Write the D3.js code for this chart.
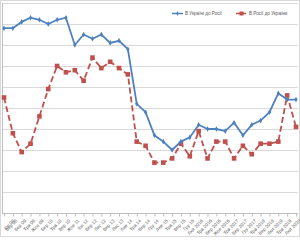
<!DOCTYPE html>
<html>
<head>
<meta charset="utf-8">
<script src="https://cdn.jsdelivr.net/npm/d3@7"></script>
<style>
  body { margin: 0; background: #fff; }
  svg { display: block; font-family: "Liberation Sans", Arial, sans-serif; }
</style>
</head>
<body>
<svg width="300" height="240"></svg>
<script>
// survey dates (x axis)
var dates = ['Кві 08', 'Вер 08', 'Бер 09', 'Тра 09', 'Жов 09', 'Бер 10', 'Тра 10', 'Вер 10',
  'Жов 11', 'Кві 12', 'Вер 12', 'Лис 12', 'Вер 13', 'Лис 13', 'Лют 14', 'Тра 14', 'Вер 14',
  'Гру 14', 'Лют 15', 'Тра 15', 'Вер 15', 'Гру 15', 'Лют 2016', 'Тра 2016', 'Вер 2016',
  'Жов 2016', 'Тра 2017', 'Вер 2017', 'Гру 2017', 'Тра 2018', 'Вер 2018', 'Лют 2019',
  'Тра 2019', 'Лют 2020'];

// good attitude, %
var uaToRu = [88, 88, 91, 93, 92, 90, 92, 93, 80, 85, 83, 85, 81, 82, 78, 52, 48,
  37, 34, 30, 34, 36, 42, 40, 40, 39, 43, 37, 42, 44, 48, 57, 54, 54];
var ruToUa = [55, 38, 29, 33, 46, 59, 70, 67, 68, 63, 74, 69, 72, 69, 66, 34, 32,
  24, 24, 26, 33, 27, 39, 26, 34, 34, 26, 32, 28, 33, 33, 34, 56, 41];

var seriesNames = ['В Україні до Росії', 'В Росії до України'];
var yTicks = [0, 10, 20, 30, 40, 50, 60, 70, 80, 90, 100];

var svg = d3.select('svg');

var x = d3.scalePoint().domain(dates).range([4, 296]);
var y = d3.scaleLinear().domain([0, 100]).range([213, 3]);

// chart border
svg.append('rect')
  .attr('x', 0.5).attr('y', 0.5)
  .attr('width', 299).attr('height', 236)
  .attr('fill', 'none')
  .attr('stroke', '#d9d9d9');

// gridlines
svg.append('g')
  .selectAll('line')
  .data(yTicks.slice(1))
  .enter()
  .append('line')
    .attr('x1', 2).attr('x2', 298)
    .attr('y1', function(d){ return y(d) + 0.5; })
    .attr('y2', function(d){ return y(d) + 0.5; })
    .attr('stroke', '#d9d9d9')
    .attr('stroke-width', 1);

// left axis line
svg.append('line')
  .attr('x1', 2.5).attr('x2', 2.5)
  .attr('y1', y(100)).attr('y2', y(0))
  .attr('stroke', '#bfbfbf');

// x axis
var xAxis = svg.append('g')
  .attr('transform', 'translate(0,' + (y(0) + 0.5) + ')')
  .call(d3.axisBottom(x).tickSize(3).tickSizeOuter(0));
xAxis.select('.domain').attr('stroke', '#bfbfbf').attr('d', 'M2,0H298');
xAxis.selectAll('.tick line').attr('stroke', '#bfbfbf');
xAxis.selectAll('.tick text')
  .attr('font-size', 4.6)
  .attr('fill', '#595959')
  .attr('text-anchor', 'end')
  .attr('dy', 0)
  .attr('transform', function(d, i){
    // first label nudged right so it stays inside the picture
    return 'translate(' + (i === 0 ? 6 : 0) + ',3.5) rotate(-45)';
  });

// lines
var line = function(vals){
  return d3.line()
    .x(function(d, i){ return x(dates[i]); })
    .y(function(d){ return y(d); })(vals);
};

svg.append('path')
  .attr('d', line(ruToUa))
  .attr('fill', 'none')
  .attr('stroke', '#c0504d')
  .attr('stroke-width', 1.8)
  .attr('stroke-dasharray', '6,3');

svg.append('g')
  .selectAll('rect')
  .data(ruToUa)
  .enter()
  .append('rect')
    .attr('x', function(d, i){ return x(dates[i]) - 2.3; })
    .attr('y', function(d){ return y(d) - 2.3; })
    .attr('width', 4.6).attr('height', 4.6)
    .attr('fill', '#c0504d');

svg.append('path')
  .attr('d', line(uaToRu))
  .attr('fill', 'none')
  .attr('stroke', '#4f81bd')
  .attr('stroke-width', 1.8);

svg.append('g')
  .selectAll('path')
  .data(uaToRu)
  .enter()
  .append('path')
    .attr('d', d3.symbol().type(d3.symbolDiamond).size(9))
    .attr('transform', function(d, i){ return 'translate(' + x(dates[i]) + ',' + y(d) + ')'; })
    .attr('fill', '#4f81bd');

// legend
var legend = svg.append('g').attr('transform', 'translate(0,13.5)');
var legendItems = [
  { name: seriesNames[0], color: '#4f81bd', x: 172, dash: null },
  { name: seriesNames[1], color: '#c0504d', x: 236, dash: '4,2' }
];
legendItems.forEach(function(item, k){
  legend.append('line')
    .attr('x1', item.x).attr('x2', item.x + 11)
    .attr('stroke', item.color).attr('stroke-width', 1.5)
    .attr('stroke-dasharray', item.dash);
  if (k === 0) {
    legend.append('path')
      .attr('d', d3.symbol().type(d3.symbolDiamond).size(6))
      .attr('transform', 'translate(' + (item.x + 5.5) + ',0)')
      .attr('fill', item.color);
  } else {
    legend.append('rect')
      .attr('x', item.x + 3.5).attr('y', -2).attr('width', 4).attr('height', 4)
      .attr('fill', item.color);
  }
  legend.append('text')
    .attr('x', item.x + 13).attr('y', 1.7)
    .attr('font-size', 4.6)
    .attr('fill', '#595959')
    .text(item.name);
});
</script>
</body>
</html>
